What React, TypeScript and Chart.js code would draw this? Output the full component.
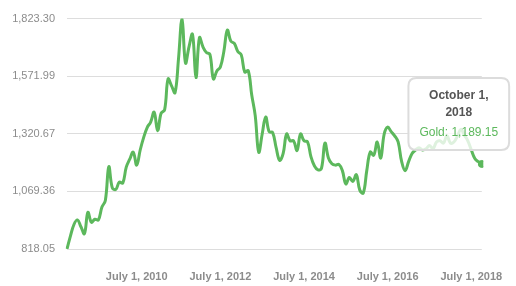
import React, { useEffect, useRef } from 'react';
import { Chart, registerables, Tooltip } from 'chart.js';

Chart.register(...registerables);

const MONTH_NAMES = [
  'January', 'February', 'March', 'April', 'May', 'June',
  'July', 'August', 'September', 'October', 'November', 'December',
];
const START_YEAR = 2008;
const START_MONTH = 10; // November (0-based)

const goldPrices = [
  818.05, 875, 925, 945, 915, 885, 978, 935, 948, 945,
  1000, 1030, 1177, 1085, 1078, 1110, 1106, 1175, 1210, 1241,
  1184, 1250, 1305, 1348, 1372, 1415, 1334, 1410, 1425, 1560,
  1530, 1500, 1650, 1823.3, 1630, 1700, 1755, 1566, 1740, 1700,
  1675, 1667, 1560, 1595, 1612, 1680, 1773, 1725, 1715, 1680,
  1665, 1590, 1596, 1490, 1400, 1240, 1320, 1394, 1330, 1326,
  1260, 1205, 1234, 1320, 1290, 1290, 1248, 1320, 1290, 1286,
  1220, 1180, 1163, 1170, 1280, 1215, 1190, 1184, 1187, 1160,
  1102, 1130, 1113, 1142, 1075, 1062, 1160, 1241, 1227, 1285,
  1215, 1320, 1350, 1330, 1312, 1285, 1200, 1160, 1199, 1235,
  1250, 1260, 1250, 1255, 1270, 1255, 1285, 1290, 1280, 1312,
  1280, 1285, 1310, 1340, 1315, 1290, 1250, 1213, 1199, 1189.15,
];

const categories = goldPrices.map((_, i) => {
  const m = (START_MONTH + i) % 12;
  const y = START_YEAR + Math.floor((START_MONTH + i) / 12);
  return `${MONTH_NAMES[m]} 1, ${y}`;
});

const xTickLabels = ['July 1, 2010', 'July 1, 2012', 'July 1, 2014', 'July 1, 2016', 'July 1, 2018'];
const yTickValues = [818.05, 1069.36, 1320.67, 1571.99, 1823.3];

const seriesName = 'Gold';
const GREEN = '#5cb85c';

const fmt = (v: number) =>
  v.toLocaleString('en-US', { minimumFractionDigits: 2, maximumFractionDigits: 2 });

(Tooltip.positioners as any).goldFixed = function (elements: any[]) {
  if (!elements.length) return false;
  const el = elements[elements.length - 1].element;
  return { x: el.x - 23, y: el.y - 14 };
};

export default function App() {
  const ref = useRef<HTMLCanvasElement | null>(null);

  useEffect(() => {
    if (!ref.current) return;
    Chart.defaults.font.family = '"Liberation Sans", Arial, sans-serif';
    const chart = new Chart(ref.current, {
      type: 'line',
      data: {
        labels: categories,
        datasets: [
          {
            label: seriesName,
            data: goldPrices,
            borderColor: GREEN,
            backgroundColor: GREEN,
            borderWidth: 3,
            pointRadius: 0,
            pointHoverRadius: 3.5,
            pointHoverBorderWidth: 1,
            pointHoverBackgroundColor: GREEN,
            pointHoverBorderColor: GREEN,
            tension: 0.4,
            fill: false,
          },
        ],
      },
      options: {
        responsive: false,
        animation: false,
        events: [],
        layout: { padding: { top: 13, right: 31, left: 0, bottom: 0 } },
        plugins: {
          legend: { display: false },
          tooltip: {
            enabled: true,
            position: 'goldFixed' as any,
            xAlign: 'center',
            yAlign: 'bottom',
            caretSize: 0,
            caretPadding: 0,
            backgroundColor: 'rgba(255,255,255,0.8)',
            borderColor: 'rgba(220,220,220,1)',
            borderWidth: 2,
            cornerRadius: 8,
            padding: { x: 11, y: 10 },
            titleColor: '#555555',
            titleFont: { size: 12, weight: 'bold', lineHeight: 1.25 },
            titleAlign: 'center',
            titleSpacing: 2,
            titleMarginBottom: 5,
            bodyColor: GREEN,
            bodyFont: { size: 12, weight: 'normal', lineHeight: 1.25 },
            bodyAlign: 'center',
            displayColors: false,
            callbacks: {
              title: (items: any[]) => {
                const lbl = String(items[0].label);
                const idx = lbl.lastIndexOf(' ');
                return [lbl.slice(0, idx), lbl.slice(idx + 1)];
              },
              label: (item: any) => `${item.dataset.label}: ${fmt(item.parsed.y)}`,
            },
          },
        },
        scales: {
          x: {
            type: 'category',
            grid: { display: false },
            border: { display: false },
            afterFit: (scale: any) => {
              scale.height = 37;
            },
            ticks: {
              autoSkip: false,
              maxRotation: 0,
              minRotation: 0,
              padding: 13,
              color: '#8c8c8c',
              font: { size: 11, weight: 'bold' },
              callback: function (this: any, _v: any, index: number) {
                const lbl = categories[index];
                return xTickLabels.includes(lbl) ? lbl : null;
              },
            },
          },
          y: {
            min: yTickValues[0],
            max: yTickValues[yTickValues.length - 1],
            grid: { color: '#dddddd', lineWidth: 1, drawTicks: false },
            border: { display: false },
            afterFit: (scale: any) => {
              scale.width = 67;
            },
            afterBuildTicks: (scale: any) => {
              scale.ticks = yTickValues.map((v) => ({ value: v }));
            },
            ticks: {
              padding: 12,
              color: '#8c8c8c',
              font: { size: 11 },
              callback: (v: any) => fmt(Number(v)),
            },
          },
        },
      },
    });

    const active = [{ datasetIndex: 0, index: goldPrices.length - 1 }];
    chart.setActiveElements(active);
    chart.tooltip?.setActiveElements(active, { x: 0, y: 0 });
    chart.update();

    return () => chart.destroy();
  }, []);

  return (
    <div style={{ position: 'absolute', left: 0, top: 0, width: 516, height: 286 }}>
      <canvas ref={ref} width={516} height={286} style={{ display: 'block' }} />
    </div>
  );
}
